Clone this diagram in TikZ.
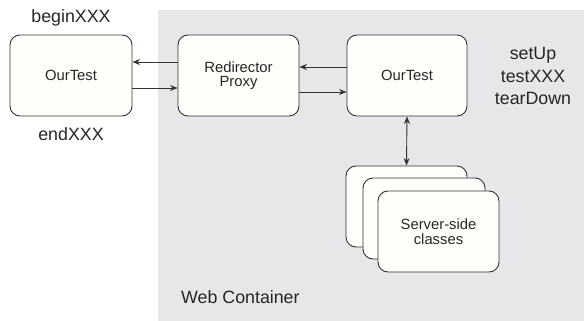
\documentclass[tikz,border=0pt]{standalone}
\usepackage{fontspec}
\setmainfont{Liberation Sans}
\usetikzlibrary{arrows.meta}
\definecolor{bggray}{HTML}{E6E7E9}
\definecolor{boxfill}{HTML}{FEFEFA}
\definecolor{edge}{HTML}{333333}
\tikzset{
  box/.style={draw=edge, line width=0.9pt, fill=boxfill, rounded corners=10pt, inner sep=0pt, align=center,
    font=\fontsize{14.8}{14.5}\selectfont, text=black!85},
  lbl/.style={font=\fontsize{17.8}{22.5}\selectfont, inner sep=0pt, align=center, text=black!85},
  arr/.style={draw=edge, line width=0.9pt, -{Stealth[length=7.5pt,width=6pt]}},
  darr/.style={draw=edge, line width=0.9pt, {Stealth[length=7.5pt,width=6pt]}-{Stealth[length=7.5pt,width=6pt]}}
}
\begin{document}
\begin{tikzpicture}[x=1pt,y=-1pt]
\useasboundingbox (0,0) rectangle (584,321);
\fill[bggray] (158,10) rectangle (584,321);
\node[box, minimum width=122pt, minimum height=81pt] (ot1) at (71,75.5) {OurTest};
\node[box, minimum width=121pt, minimum height=81pt] (rp) at (238.5,75.5) {Redirector\\Proxy};
\node[box, minimum width=120pt, minimum height=81pt] (ot2) at (407,75.5) {OurTest};
\node[box, minimum width=121pt, minimum height=81pt] (s1) at (406.5,206.5) {};
\node[box, minimum width=122pt, minimum height=81pt] (s2) at (424,218.5) {};
\node[box, minimum width=121pt, minimum height=81pt] (s3) at (438.5,231.5) {Server-side\\classes};
\node[lbl] (begin) at (71,18) {beginXXX};
\node[lbl] (end) at (71,134) {endXXX};
\node[lbl] (meth) at (533,76) {setUp\\testXXX\\tearDown};
\node[lbl, anchor=west] (web) at (181,297) {Web Container};
\draw[arr] ([yshift=13.5pt]rp.west) -- ([yshift=13.5pt]ot1.east);
\draw[arr] ([yshift=-12.5pt]ot1.east) -- ([yshift=-12.5pt]rp.west);
\draw[arr] ([yshift=8.5pt]ot2.west) -- ([yshift=8.5pt]rp.east);
\draw[arr] ([yshift=-16.5pt]rp.east) -- ([yshift=-16.5pt]ot2.west);
\draw[darr] (ot2.south) -- (s1.north);
\end{tikzpicture}
\end{document}
